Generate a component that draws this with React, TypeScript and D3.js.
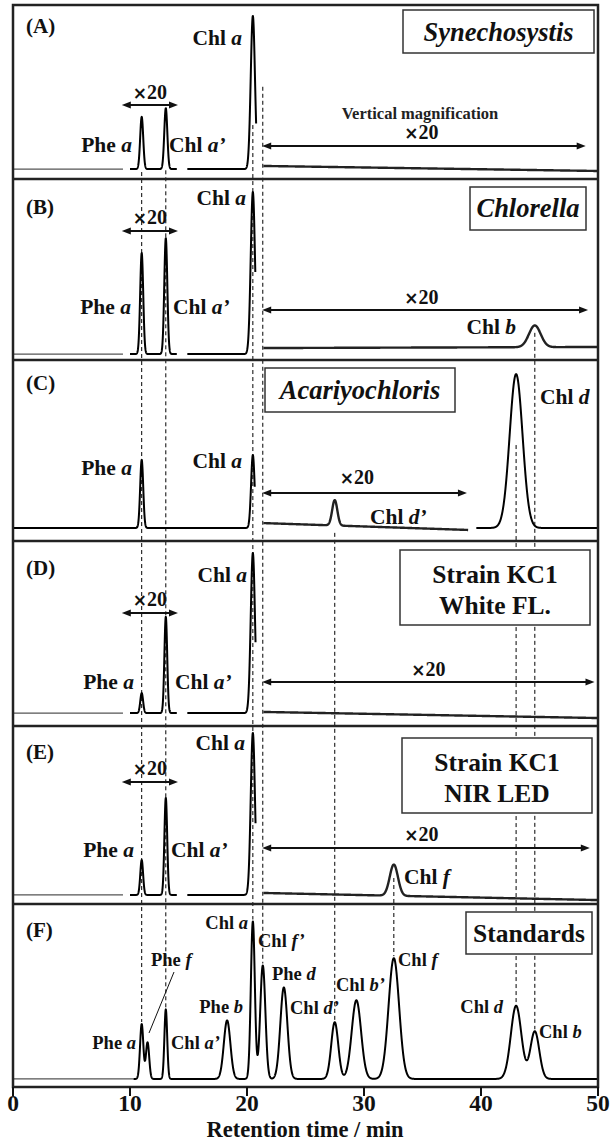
import React from 'react';
import * as d3 from 'd3';

const WIDTH = 611;
const HEIGHT = 1143;

// ---------- data ----------
const xDomain: [number, number] = [0, 50];
const xTicks = [0, 10, 20, 30, 40, 50];
const panelLetters = ['(A)', '(B)', '(C)', '(D)', '(E)', '(F)'];
const panelTitles = [['Synechosystis'], ['Chlorella'], ['Acariyochloris'], ['Strain KC1', 'White FL.'], ['Strain KC1', 'NIR LED'], ['Standards']];
const titleItalic = [true, true, true, false, false, false];

type Peak = [number, number, number]; // retention time (min), height, width (min)
type Seg = { t0: number; t1: number; b0: number; b1: number; peaks: Peak[]; kind: 'thin' | 'main' | 'mag' };

const traceA: Seg[] = [
  { t0: 0, t1: 9.4, b0: 5.7, b1: 5.7, peaks: [], kind: 'thin' },
  { t0: 10.0, t1: 14.0, b0: 5.7, b1: 5.7, peaks: [[11.0, 30, 0.13], [13.06, 35, 0.13]], kind: 'main' },
  { t0: 14.9, t1: 20.78, b0: 5.7, b1: 5.7, peaks: [[20.5, 88, 0.18]], kind: 'main' },
  { t0: 21.4, t1: 50, b0: 7.5, b1: 4.6, peaks: [], kind: 'mag' },
];
const traceB: Seg[] = [
  { t0: 0, t1: 9.4, b0: 3.3, b1: 3.3, peaks: [], kind: 'thin' },
  { t0: 10.0, t1: 14.0, b0: 3.3, b1: 3.3, peaks: [[11.0, 55.8, 0.13], [13.06, 64, 0.13]], kind: 'main' },
  { t0: 14.9, t1: 20.71, b0: 3.3, b1: 3.3, peaks: [[20.5, 89.5, 0.18]], kind: 'main' },
  { t0: 21.4, t1: 50, b0: 6.6, b1: 7.2, peaks: [[44.6, 12, 0.5]], kind: 'mag' },
];
const traceC: Seg[] = [
  { t0: 0, t1: 20.66, b0: 7.2, b1: 7.2, peaks: [[11.0, 37.6, 0.13], [20.5, 40.3, 0.15]], kind: 'main' },
  { t0: 21.4, t1: 38.9, b0: 9.9, b1: 6.1, peaks: [[27.5, 14, 0.22]], kind: 'mag' },
  { t0: 39.6, t1: 50, b0: 7.2, b1: 7.2, peaks: [[43.0, 85, 0.55]], kind: 'main' },
];
const traceD: Seg[] = [
  { t0: 0, t1: 9.4, b0: 7, b1: 7, peaks: [], kind: 'thin' },
  { t0: 10.0, t1: 14.0, b0: 7, b1: 7, peaks: [[11.0, 10.8, 0.12], [13.06, 52, 0.12]], kind: 'main' },
  { t0: 14.9, t1: 20.73, b0: 7, b1: 7, peaks: [[20.5, 86.5, 0.18]], kind: 'main' },
  { t0: 21.4, t1: 50, b0: 7.6, b1: 4.3, peaks: [], kind: 'mag' },
];
const traceE: Seg[] = [
  { t0: 0, t1: 9.4, b0: 5.1, b1: 5.1, peaks: [], kind: 'thin' },
  { t0: 10.0, t1: 14.0, b0: 5.1, b1: 5.1, peaks: [[11.0, 19.6, 0.12], [13.06, 54.5, 0.12]], kind: 'main' },
  { t0: 14.9, t1: 20.73, b0: 5.1, b1: 5.1, peaks: [[20.5, 91, 0.18]], kind: 'main' },
  { t0: 21.4, t1: 50, b0: 6.2, b1: 2.2, peaks: [[32.55, 17.5, 0.35]], kind: 'mag' },
];
const standardTimes = [11.0, 11.5, 13.06, 18.3, 20.5, 21.35, 23.15, 27.5, 29.35, 32.55, 43.0, 44.6];
const standardHeights = [30, 20, 38, 32, 86, 62, 50, 31, 43, 66, 40, 26];
const standardWidths = [0.14, 0.14, 0.12, 0.28, 0.17, 0.22, 0.3, 0.3, 0.4, 0.45, 0.45, 0.38];
const traceF: Seg[] = [
  { t0: 0, t1: 10.3, b0: 4.4, b1: 4.4, peaks: [], kind: 'thin' },
  {
    t0: 10.3, t1: 50, b0: 4.4, b1: 4.4, kind: 'main',
    peaks: standardTimes.map((t, i) => [t, standardHeights[i], standardWidths[i]] as Peak),
  },
];
const traces = [traceA, traceB, traceC, traceD, traceE, traceF];

// guide (dashed) lines: time, starting panel, starting level
const guideTimes = [11.0, 13.06, 20.5, 21.35, 27.5, 32.55, 43.0, 44.6];
const guideStartPanel = [0, 0, 0, 0, 2, 4, 2, 1];
const guideStartLevel = [4, 5, 31, 53, 4.5, 14.6, 53, 15];

// ---------- layout ----------
const FRAME_L = 13;
const FRAME_R = 598;
const panelBounds: [number, number][] = [[5, 179], [179, 360], [360, 541], [541, 726], [726, 904], [904, 1087]];
const letterY = [33, 214, 390, 575, 759, 937];
const boxes = [
  { x0: 403, x1: 594, y0: 10, y1: 53, lines: [41] },
  { x0: 470, x1: 586, y0: 187, y1: 230, lines: [217] },
  { x0: 265, x1: 455, y0: 368, y1: 412, lines: [399] },
  { x0: 400, x1: 590, y0: 550, y1: 625, lines: [583, 614] },
  { x0: 402, x1: 592, y0: 738, y1: 813, lines: [771, 802] },
  { x0: 466, x1: 592, y0: 912, y1: 954, lines: [942] },
];
// magnification arrows: [t0, t1, y, text x (min), text baseline]
const arrows = [
  [9.3, 14.1, 105, 11.7, 99],
  [21.3, 48.95, 146, 34.9, 139],
  [9.3, 14.1, 231, 11.7, 224],
  [21.3, 49.15, 310, 34.9, 304],
  [21.3, 38.8, 493, 29.4, 484],
  [9.3, 14.1, 613, 11.7, 606],
  [21.3, 49.7, 682, 35.5, 676],
  [9.3, 14.1, 782, 11.7, 775],
  [21.3, 49.3, 848, 34.9, 841],
];

type Lbl = { pre: string; it: string; x: number; y: number; anchor: 'start' | 'end'; size: number };
const L = 21.5;
const S = 18.5;
const peakLabels: Lbl[] = [
  { pre: 'Chl ', it: 'a', x: 242, y: 45, anchor: 'end', size: L },
  { pre: 'Phe ', it: 'a', x: 132, y: 152, anchor: 'end', size: L },
  { pre: 'Chl ', it: 'a\u2019', x: 169, y: 152, anchor: 'start', size: L },
  { pre: 'Chl ', it: 'a', x: 246, y: 205, anchor: 'end', size: L },
  { pre: 'Phe ', it: 'a', x: 131, y: 314, anchor: 'end', size: L },
  { pre: 'Chl ', it: 'a\u2019', x: 173, y: 314, anchor: 'start', size: L },
  { pre: 'Chl ', it: 'b', x: 516, y: 334, anchor: 'end', size: L },
  { pre: 'Phe ', it: 'a', x: 132, y: 475, anchor: 'end', size: L },
  { pre: 'Chl ', it: 'a', x: 242, y: 468, anchor: 'end', size: L },
  { pre: 'Chl ', it: 'd\u2019', x: 370, y: 524, anchor: 'start', size: L },
  { pre: 'Chl ', it: 'd', x: 540, y: 404, anchor: 'start', size: L },
  { pre: 'Chl ', it: 'a', x: 247, y: 582, anchor: 'end', size: L },
  { pre: 'Phe ', it: 'a', x: 134, y: 689, anchor: 'end', size: L },
  { pre: 'Chl ', it: 'a\u2019', x: 175, y: 689, anchor: 'start', size: L },
  { pre: 'Chl ', it: 'a', x: 245, y: 750, anchor: 'end', size: L },
  { pre: 'Phe ', it: 'a', x: 134, y: 857, anchor: 'end', size: L },
  { pre: 'Chl ', it: 'a\u2019', x: 171, y: 857, anchor: 'start', size: L },
  { pre: 'Chl ', it: 'f', x: 404, y: 884, anchor: 'start', size: L },
  { pre: 'Chl ', it: 'a', x: 248, y: 929, anchor: 'end', size: S },
  { pre: 'Chl ', it: 'f\u2019', x: 258, y: 947, anchor: 'start', size: S },
  { pre: 'Phe ', it: 'f', x: 151, y: 966, anchor: 'start', size: S },
  { pre: 'Phe ', it: 'd', x: 272, y: 980, anchor: 'start', size: S },
  { pre: 'Phe ', it: 'b', x: 243, y: 1013, anchor: 'end', size: S },
  { pre: 'Chl ', it: 'd\u2019', x: 290, y: 1014, anchor: 'start', size: S },
  { pre: 'Chl ', it: 'b\u2019', x: 336, y: 991, anchor: 'start', size: S },
  { pre: 'Chl ', it: 'f', x: 398, y: 966, anchor: 'start', size: S },
  { pre: 'Chl ', it: 'd', x: 503, y: 1013, anchor: 'end', size: S },
  { pre: 'Chl ', it: 'b', x: 539, y: 1038, anchor: 'start', size: S },
  { pre: 'Phe ', it: 'a', x: 136, y: 1049, anchor: 'end', size: S },
  { pre: 'Chl ', it: 'a\u2019', x: 171, y: 1049, anchor: 'start', size: S },
];

const FONT = "'Liberation Serif','Times New Roman',serif";

function segValue(seg: Seg, t: number) {
  const f = (t - seg.t0) / (seg.t1 - seg.t0);
  let v = seg.b0 + (seg.b1 - seg.b0) * f;
  for (const [c, h, w] of seg.peaks) v += h * Math.exp(-((t - c) ** 2) / (2 * w * w));
  return v;
}

export default function App() {
  const x = d3.scaleLinear().domain(xDomain).range([FRAME_L, FRAME_R]);
  const ys = panelBounds.map(([top, bottom]) => d3.scaleLinear().domain([0, 100]).range([bottom, top]));
  const line = d3.line<[number, number]>().x((d) => d[0]).y((d) => d[1]);

  const strokeFor = (k: string) =>
    k === 'thin' ? { stroke: '#555', w: 1.2 } : k === 'mag' ? { stroke: '#222', w: 2.4 } : { stroke: '#000', w: 2 };

  const fSeg = traceF[1];

  return (
    <svg width={WIDTH} height={HEIGHT} style={{ position: 'absolute', left: 0, top: 0, background: '#fff' }} fontFamily={FONT}>
      <rect x={0} y={0} width={WIDTH} height={HEIGHT} fill="#fff" />
      {/* guide lines */}
      {guideTimes.map((t, i) => {
        const y0 = ys[guideStartPanel[i]](guideStartLevel[i]);
        const y1 = ys[5](segValue(fSeg, t)) - 2;
        return <line key={'g' + i} x1={x(t)} x2={x(t)} y1={y0} y2={y1} stroke="#000" strokeWidth={1} strokeDasharray="4,3" />;
      })}
      {/* traces */}
      {traces.map((segs, p) =>
        segs.map((seg, j) => {
          const pts: [number, number][] = d3
            .range(seg.t0, seg.t1, 0.01)
            .concat([seg.t1])
            .map((t) => [x(t), ys[p](segValue(seg, t))]);
          const st = strokeFor(seg.kind);
          return <path key={`t${p}-${j}`} d={line(pts) || ''} fill="none" stroke={st.stroke} strokeWidth={st.w} strokeLinejoin="round" />;
        })
      )}
      {/* boxes */}
      {boxes.map((b, i) => (
        <g key={'b' + i}>
          <rect x={b.x0} y={b.y0} width={b.x1 - b.x0} height={b.y1 - b.y0} fill="#fff" stroke="#333" strokeWidth={1.5} />
          {panelTitles[i].map((s, k) => (
            <text key={k} x={(b.x0 + b.x1) / 2} y={b.lines[k]} textAnchor="middle" fontSize={titleItalic[i] ? 26.5 : 25.5} fontWeight="bold" fontStyle={titleItalic[i] ? 'italic' : 'normal'} fill="#111">
              {s}
            </text>
          ))}
        </g>
      ))}
      {/* arrows */}
      {arrows.map(([t0, t1, y, tx, ty], i) => {
        const a = x(t0), b = x(t1);
        return (
          <g key={'a' + i}>
            <line x1={a + 4} x2={b - 4} y1={y} y2={y} stroke="#111" strokeWidth={2} />
            <path d={`M${a},${y} L${a + 9},${y - 3.5} L${a + 9},${y + 3.5} Z`} fill="#111" />
            <path d={`M${b},${y} L${b - 9},${y - 3.5} L${b - 9},${y + 3.5} Z`} fill="#111" />
            <text x={x(tx)} y={ty} textAnchor="middle" fontSize={20} fontWeight="bold" fill="#111">
              <tspan fontFamily="'DejaVu Sans',sans-serif" fontSize={17}>×</tspan>
              <tspan>20</tspan>
            </text>
          </g>
        );
      })}
      <text x={420} y={119} textAnchor="middle" fontSize={16.5} fontWeight="bold" fill="#222">
        Vertical  magnification
      </text>
      {/* peak labels */}
      {peakLabels.map((l, i) => (
        <text key={'l' + i} x={l.x} y={l.y} textAnchor={l.anchor} fontSize={l.size} fontWeight="bold" fill="#111">
          <tspan>{l.pre}</tspan>
          <tspan fontStyle="italic">{l.it}</tspan>
        </text>
      ))}
      {/* Phe f leader */}
      <line x1={174} y1={972} x2={149} y2={1033} stroke="#111" strokeWidth={1} />
      {/* panel letters */}
      {panelLetters.map((s, i) => (
        <text key={'p' + i} x={26} y={letterY[i]} fontSize={21} fontWeight="bold" fill="#111">
          {s}
        </text>
      ))}
      {/* frame and dividers */}
      <rect x={FRAME_L} y={panelBounds[0][0]} width={FRAME_R - FRAME_L} height={panelBounds[5][1] - panelBounds[0][0]} fill="none" stroke="#222" strokeWidth={2.5} />
      {panelBounds.slice(1).map(([top], i) => (
        <line key={'d' + i} x1={FRAME_L} x2={FRAME_R} y1={top} y2={top} stroke="#222" strokeWidth={2.5} />
      ))}
      {/* x axis */}
      {xTicks.map((t) => (
        <g key={'x' + t}>
          <line x1={x(t)} x2={x(t)} y1={panelBounds[5][1]} y2={panelBounds[5][1] + 9} stroke="#111" strokeWidth={2} />
          <text x={x(t)} y={1111} textAnchor="middle" fontSize={23.5} fontWeight="bold" fill="#111">
            {t}
          </text>
        </g>
      ))}
      <text x={305} y={1137} textAnchor="middle" fontSize={22.5} fontWeight="bold" fill="#111">
        Retention time / min
      </text>
    </svg>
  );
}
